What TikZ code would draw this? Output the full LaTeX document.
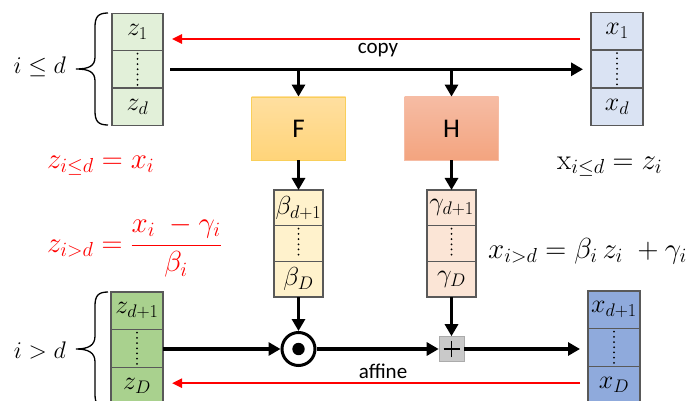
\RequirePackage{fix-cm}
\documentclass[tikz,border=0pt]{standalone}
\usepackage{fontspec}
\newfontfamily\calibri{Carlito}
\usetikzlibrary{arrows.meta}

\definecolor{cellline}{HTML}{595959}
\definecolor{zlight}{HTML}{E2F0D9}
\definecolor{xlight}{HTML}{DAE3F3}
\definecolor{zdark}{HTML}{A9D18E}
\definecolor{xdark}{HTML}{8FAADC}
\definecolor{betafill}{HTML}{FFF2CC}
\definecolor{gammafill}{HTML}{FBE5D6}
\definecolor{Ftop}{HTML}{FFDFA0}
\definecolor{Fbot}{HTML}{FFD479}
\definecolor{Fline}{HTML}{F9CF5A}
\definecolor{Htop}{HTML}{F6BCA4}
\definecolor{Hbot}{HTML}{F3A47F}
\definecolor{plusfill}{HTML}{C9C9C9}
\definecolor{eqred}{HTML}{FF0000}

\newcommand\cellfont{\fontsize{26}{30}\selectfont}
\newcommand\eqfont{\fontsize{29}{33}\selectfont}
\newcommand\bracefont{\fontsize{24}{28}\selectfont}

\begin{document}
\begin{tikzpicture}[x=1pt,y=-1pt,
  cellbox/.style={draw=cellline,line width=1.2pt,inner sep=0pt,outer sep=0pt,font=\cellfont},
  topcol/.style={cellbox,minimum width=51pt,minimum height=37.3pt},
  midcol/.style={cellbox,minimum width=49pt,minimum height=35.67pt},
  botcol/.style={cellbox,minimum width=52pt,minimum height=37.7pt},
  netbox/.style={draw=#1,line width=0.8pt,minimum width=94pt,minimum height=63pt,inner sep=0pt,font=\calibri\fontsize{27}{30}\selectfont},
  flow/.style={line width=3.2pt,-{Triangle[length=12pt,width=13pt]}},
  back/.style={draw=eqred,line width=2.4pt,-{Triangle[length=10pt,width=9pt]}},
  vdots/.style={line width=2pt,line cap=round,dash pattern=on 0pt off 5.2pt},
  curly/.style={line width=1.3pt},
  lbl/.style={font=\calibri\fontsize{21}{24}\selectfont,inner sep=0pt},
  eq/.style={anchor=base west,font=\eqfont,inner sep=0pt}]

\useasboundingbox (0,0) rectangle (690,401);
\clip (0,0) rectangle (690,401);

% upper input block z_1 .. z_d
\node[topcol,fill=zlight] (zt1) at (137.5,32) {$z_1$};
\node[topcol,fill=zlight] (zt2) at (137.5,69.3) {};
\node[topcol,fill=zlight] (zt3) at (137.5,106.6) {$z_d$};
% upper output block x_1 .. x_d
\node[topcol,fill=xlight,minimum width=52pt] (xt1) at (617,31) {$x_1$};
\node[topcol,fill=xlight,minimum width=52pt] (xt2) at (617,68.8) {};
\node[topcol,fill=xlight,minimum width=52pt] (xt3) at (617,106.6) {$x_d$};
% lower input block z_{d+1} .. z_D
\node[botcol,fill=zdark] (zb1) at (137,310.8) {$z_{d+1}$};
\node[botcol,fill=zdark] (zb2) at (137,348.5) {};
\node[botcol,fill=zdark] (zb3) at (137,386.2) {$z_D$};
% lower output block x_{d+1} .. x_D
\node[botcol,fill=xdark] (xb1) at (614,309.8) {$x_{d+1}$};
\node[botcol,fill=xdark] (xb2) at (614,347.5) {};
\node[botcol,fill=xdark] (xb3) at (614,385.2) {$x_D$};

% conditioner networks
\node[netbox=Fline,top color=Ftop,bottom color=Fbot] (F) at (298.5,128.5) {F};
\node[netbox=Htop,top color=Htop,bottom color=Hbot] (H) at (451.5,128.5) {H};

% scale and shift vectors
\node[midcol,fill=betafill] (b1) at (298.5,207.8) {$\beta_{d+1}$};
\node[midcol,fill=betafill] (b2) at (298.5,243.5) {};
\node[midcol,fill=betafill] (b3) at (298.5,279.2) {$\beta_D$};
\node[midcol,fill=gammafill] (g1) at (451.5,207.8) {$\gamma_{d+1}$};
\node[midcol,fill=gammafill] (g2) at (451.5,243.5) {};
\node[midcol,fill=gammafill] (g3) at (451.5,279.2) {$\gamma_D$};

% vertical ellipses in the middle cells
\foreach \c in {zt2,xt2,zb2,xb2,b2,g2}
  \draw[vdots] ([yshift=-3pt]\c.north) -- ([yshift=3pt]\c.south);

% element-wise product and sum
\node[circle,draw,line width=3pt,minimum size=33pt,inner sep=0pt] (odot) at (298.5,349) {};
\fill (odot.center) circle (6.2pt);
\node[draw=plusfill!85!black,line width=0.6pt,fill=plusfill,minimum size=25pt,inner sep=0pt] (plus) at (451.5,349) {};
\draw[line width=1.3pt] ([xshift=-8pt]plus.center) -- ([xshift=8pt]plus.center)
  ([yshift=-8pt]plus.center) -- ([yshift=8pt]plus.center);

% braces
\draw[curly] (108,13) .. controls (98,13) and (95,17) .. (95,27) -- (95,57)
  .. controls (95,66) and (89,69) .. (76,69)
  .. controls (89,69) and (95,72) .. (95,81) -- (95,111)
  .. controls (95,121) and (98,125) .. (108,125);
\draw[curly] (108,292) .. controls (98,292) and (95,296) .. (95,306) -- (95,336)
  .. controls (95,345) and (89,349) .. (76,349)
  .. controls (89,349) and (95,353) .. (95,362) -- (95,394)
  .. controls (95,404) and (98,408) .. (108,408);
\node[anchor=base east,font=\bracefont,inner sep=0pt] (lt) at (66,74) {$i \le d$};
\node[anchor=base east,font=\bracefont,inner sep=0pt] (lb) at (66,358) {$i > d$};

% forward flow
\draw[flow,shorten <=7pt,shorten >=8pt] (zt2.east) -- (zt2.east -| xt2.west);
\draw[flow] (zt2.east -| F.north) -- (F.north);
\draw[flow] (zt2.east -| H.north) -- (H.north);
\draw[flow] (F.south) -- (b1.north);
\draw[flow] (H.south) -- (g1.north);
\draw[flow] (b3.south) -- (odot.north);
\draw[flow] (g3.south) -- (plus.north);
\draw[flow] (zb2.east |- odot.west) -- (odot.west);
\draw[flow] (odot.east) -- (plus.west);
\draw[flow,shorten >=8pt] (plus.east) -- (plus.east -| xb2.west);

% inverse direction
\draw[back,shorten <=11pt,shorten >=9pt] ([yshift=-8pt]xt1.west) -- ([yshift=-8pt]xt1.west -| zt1.east);
\draw[back,shorten <=8pt,shorten >=9pt] ([yshift=2pt]xb3.west) -- ([yshift=2pt]xb3.west -| zb3.east);
\node[lbl] (copy) at (378,50) {copy};
\node[lbl] (affine) at (383,371) {affine};

% equations
\node[eq,text=eqred] (eqa) at (47,168) {$z_{i\le d} = x_i$};
\node[eq,text=eqred] (eqb) at (47,252) {$z_{i>d} = {\displaystyle\frac{x_i\;-\gamma_i}{\beta_i}}$};
\node[eq] (eqc) at (557,169) {$\mathrm{x}_{i\le d} = z_i$};
\node[eq] (eqd) at (488,258) {$x_{i>d} = \beta_i\, z_i\; + \gamma_i$};
\end{tikzpicture}
\end{document}
